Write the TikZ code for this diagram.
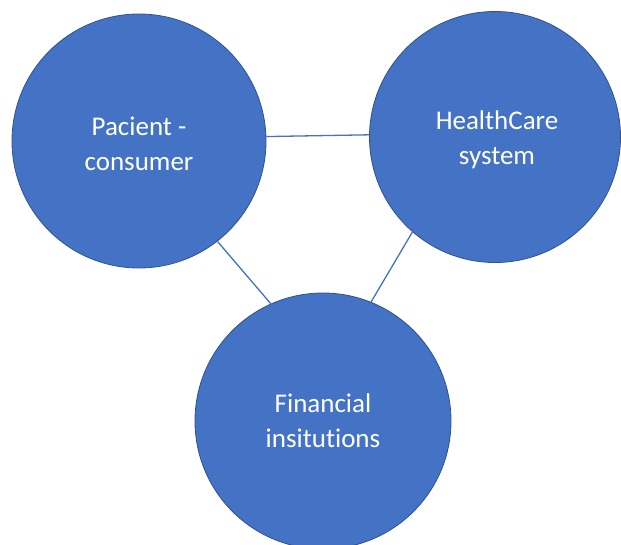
\documentclass[tikz,border=0pt]{standalone}
\usepackage{fontspec}
\setmainfont[Ligatures=NoCommon]{Carlito}
\definecolor{cfill}{HTML}{4472C4}
\definecolor{cline}{HTML}{2F528F}
\begin{document}
\begin{tikzpicture}[x=1pt,y=-1pt,
  bubble/.style={circle,fill=cfill,draw=cline,line width=0.8pt,minimum size=#1,inner sep=0pt},
  txt/.style={text=white,font=\fontsize{27}{35}\selectfont,align=center},
  link/.style={draw=cfill,line width=1.3pt}]
\useasboundingbox (0,0) rectangle (621,544);
\node[bubble=254pt] (pc) at (139,141) {};
\node[bubble=251pt] (hc) at (495,137) {};
\node[bubble=256pt] (fi) at (323,421) {};
\node[txt] (pct) at (139,144) {Pacient -\\consumer};
\node[txt] (hct) at (497,140) {HealthCare\\system};
\node[txt] (fit) at (323,421) {Financial\\insitutions};
\draw[link] (pc.2.7) -- (hc.179);
\draw[link] (pc.-52.6) -- (fi.114.4);
\draw[link] (hc.229) -- (fi.68.4);
\end{tikzpicture}
\end{document}
